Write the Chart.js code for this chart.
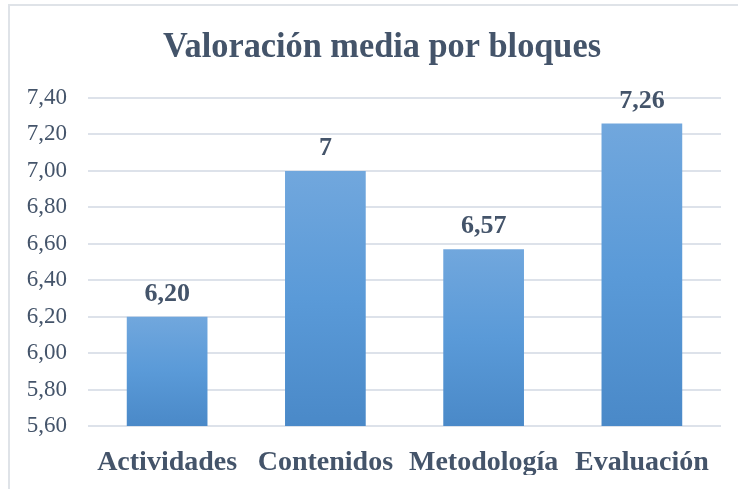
<html>
<head>
    <meta charset="utf-8">
    <script src="https://cdn.jsdelivr.net/npm/chart.js@4.4.0/dist/chart.umd.min.js" type="text/javascript"></script>
    <style>
        body { margin: 0; background: #ffffff; }
        #frame {
            position: absolute;
            left: 8px;
            top: 4px;
            width: 740px;
            height: 495px;
            border: 2px solid #dfe3e8;
        }
        #chartcontainer {
            position: absolute;
            left: 0;
            top: 0;
            width: 738px;
            height: 489px;
        }
    </style>
</head>
<body>
    <div id="frame"></div>
    <div id="chartcontainer">
        <canvas id="canvas" width="738" height="489"></canvas>
    </div>
    <script>
        var categories = ['Actividades', 'Contenidos', 'Metodología', 'Evaluación'];
        var values = [6.20, 7.00, 6.57, 7.26];
        var valueLabels = ['6,20', '7', '6,57', '7,26'];
        var chartTitle = 'Valoración media por bloques';

        var textColor = '#44546a';
        var serif = "'Liberation Serif', 'Times New Roman', serif";

        function barGradient(c) {
            var chart = c.chart;
            var area = chart.chartArea;
            if (!area) return '#5b9bd5';
            var top = chart.scales.y.getPixelForValue(c.raw);
            var g = chart.ctx.createLinearGradient(0, top, 0, area.bottom);
            g.addColorStop(0, '#71a7dd');
            g.addColorStop(0.5, '#5a9ad8');
            g.addColorStop(1, '#4a89c8');
            return g;
        }

        // title and value labels drawn by hand
        var extras = {
            id: 'extras',
            afterDatasetsDraw: function (chart) {
                var ctx = chart.ctx;
                ctx.save();
                ctx.fillStyle = textColor;
                ctx.textAlign = 'center';
                ctx.textBaseline = 'alphabetic';

                // title looks a touch condensed in the original
                ctx.save();
                ctx.translate(382, 57);
                ctx.scale(0.98, 1);
                ctx.font = 'bold 35px ' + serif;
                ctx.fillText(chartTitle, 0, 0);
                ctx.restore();

                ctx.font = 'bold 26px ' + serif;
                var meta = chart.getDatasetMeta(0);
                meta.data.forEach(function (bar, i) {
                    ctx.fillText(valueLabels[i], bar.x, bar.y - 16);
                });
                ctx.restore();
            }
        };

        var ctx = document.getElementById('canvas').getContext('2d');
        var chart = new Chart(ctx, {
            type: 'bar',
            data: {
                labels: categories,
                datasets: [{
                    data: values,
                    backgroundColor: barGradient,
                    borderWidth: 0,
                    categoryPercentage: 1.0,
                    barPercentage: 0.51
                }]
            },
            options: {
                responsive: false,
                animation: false,
                layout: {
                    padding: { top: 98, right: 17, bottom: 14, left: 0 }
                },
                plugins: {
                    legend: { display: false },
                    tooltip: { enabled: false }
                },
                scales: {
                    x: {
                        afterFit: function (scale) { scale.height = 49; },
                        grid: { display: false, drawTicks: false },
                        border: { display: false },
                        ticks: {
                            color: textColor,
                            font: { family: serif, size: 28, weight: 'bold' },
                            padding: 20,
                            maxRotation: 0,
                            autoSkip: false
                        }
                    },
                    y: {
                        min: 5.6,
                        max: 7.4,
                        afterFit: function (scale) { scale.width = 88; },
                        grid: { color: '#dde2ea', lineWidth: 2, drawTicks: false },
                        border: { display: false },
                        ticks: {
                            stepSize: 0.2,
                            color: textColor,
                            font: { family: serif, size: 23 },
                            padding: 21,
                            callback: function (v) { return v.toFixed(2).replace('.', ','); }
                        }
                    }
                }
            },
            plugins: [extras]
        });
    </script>
</body>
</html>
